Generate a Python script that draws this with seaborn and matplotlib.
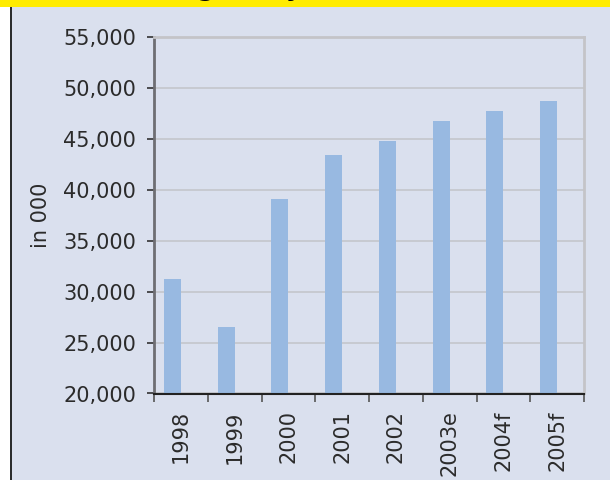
import matplotlib
matplotlib.use('Agg')
import numpy as np
import pandas as pd
import matplotlib.pyplot as plt
import seaborn as sns
from matplotlib.patches import Rectangle
from matplotlib.lines import Line2D
from matplotlib.ticker import FuncFormatter

# Dados
years = ['1998', '1999', '2000', '2001', '2002', '2003e', '2004f', '2005f']
values = [31250, 26530, 39100, 43430, 44800, 46770, 47750, 48730]
y_ticks = [20000, 25000, 30000, 35000, 40000, 45000, 50000, 55000]

bg = '#DAE0EE'
bar_color = '#98B9E1'
text_color = '#2B2B2B'

df = pd.DataFrame({'year': years, 'value': values, 'series': 'A'})

W, H = 610, 480
fig = plt.figure(figsize=(6.1, 4.8), dpi=100, facecolor=bg)

# faixa branca à esquerda, linha preta e banner amarelo
fig.add_artist(Rectangle((0, 0), 10 / W, 1, transform=fig.transFigure,
                         facecolor='white', edgecolor='none', zorder=0))
fig.add_artist(Line2D([10.8 / W, 10.8 / W], [0, 1], transform=fig.transFigure,
                      color='#1A1A1A', lw=1.3, zorder=1))
fig.add_artist(Rectangle((0, 1 - 7.3 / H), 1, 7.3 / H, transform=fig.transFigure,
                         facecolor='#FFEC00', edgecolor='none', zorder=2))
fig.text(21 / W, 1 + 4.5 / H, 'Total Passengers by Year', fontsize=18,
         fontweight='bold', color='black', ha='left', va='baseline', zorder=3)

ax = fig.add_axes([154 / W, 1 - 393.5 / H, (584 - 154) / W, (393.5 - 37) / H])
ax.set_facecolor(bg)

sns.barplot(data=df, x='year', y='value', hue='series', hue_order=['A', 'B'],
            palette=[bar_color, bar_color], width=0.632, dodge=True,
            saturation=1, legend=False, errorbar=None, ax=ax, zorder=2)

ax.set_ylim(20000, 55000)
ax.set_yticks(y_ticks)
ax.yaxis.set_major_formatter(FuncFormatter(lambda v, p: f'{v:,.0f}'))
ax.set_xlim(-0.5, len(years) - 0.5)

# marcas nos limites das categorias, rótulos no centro
ax.set_xticks(np.arange(-0.5, len(years), 1))
ax.set_xticklabels([])
ax.set_xticks(range(len(years)), minor=True)
ax.set_xticklabels(years, minor=True, rotation=90)
ax.tick_params(axis='x', which='major', length=6, width=1.2, color='#555555', direction='out')
ax.tick_params(axis='x', which='minor', length=0, pad=12, labelsize=15, labelcolor=text_color)
ax.tick_params(axis='y', length=5, width=1.2, color='#333333', pad=8,
               labelsize=15, labelcolor=text_color)

ax.set_xlabel('')
ax.set_ylabel('in 000', fontsize=15, color=text_color, labelpad=9)

ax.yaxis.grid(True, color='#C6C8CE', lw=1.3)
ax.set_axisbelow(True)

ax.spines['left'].set_color('#6E6E73')
ax.spines['left'].set_linewidth(2)
ax.spines['bottom'].set_color('#222222')
ax.spines['bottom'].set_linewidth(1.5)
ax.spines['bottom'].set_zorder(3)
for s in ['top', 'right']:
    ax.spines[s].set_color('#C4C4C8')
    ax.spines[s].set_linewidth(2)

fig.savefig('out.png', dpi=100, facecolor=bg)
